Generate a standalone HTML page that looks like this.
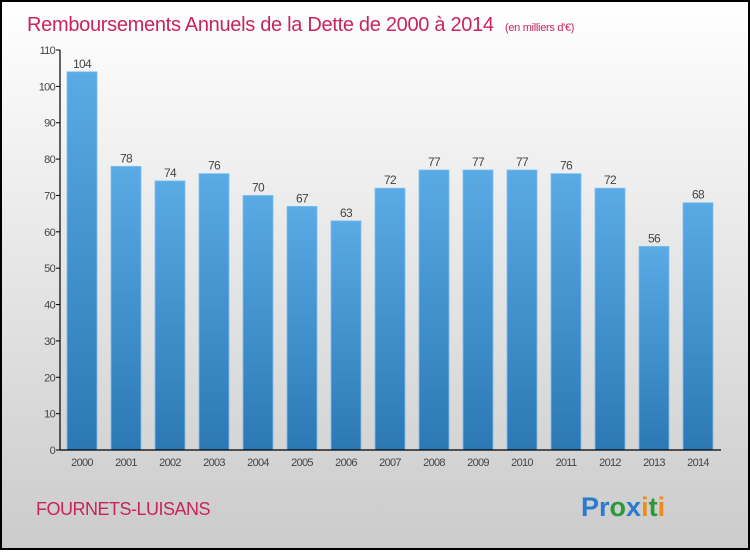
<!DOCTYPE html>
<html><head><meta charset="utf-8"><style>
html,body{margin:0;padding:0;}
body{width:750px;height:550px;overflow:hidden;font-family:"Liberation Sans",sans-serif;}
</style></head><body>
<svg id="chart" width="750" height="550" xmlns="http://www.w3.org/2000/svg">
<defs>
<linearGradient id="bg" x1="0" y1="0" x2="0" y2="1"><stop offset="0" stop-color="#ffffff"/><stop offset="1" stop-color="#cbcbcb"/></linearGradient>
<linearGradient id="bar" x1="0" y1="0" x2="0" y2="1"><stop offset="0" stop-color="#5aaae6"/><stop offset="1" stop-color="#2b78b4"/></linearGradient>
</defs>
<rect x="1" y="1" width="748" height="548" fill="url(#bg)" stroke="#000" stroke-width="2"/>
<text x="27" y="31" font-size="20" fill="#c8245c" letter-spacing="-0.3">Remboursements Annuels de la Dette de 2000 à 2014 <tspan font-size="11" dx="6">(en milliers d'€)</tspan></text>
<g id="plot"></g>
<text x="36" y="515" font-size="18" fill="#c8245c" letter-spacing="-0.5">FOURNETS-LUISANS</text>
<text x="581" y="516" font-size="27" font-weight="bold"><tspan fill="#2a7ad0">P</tspan><tspan fill="#2a7ad0">r</tspan><tspan fill="#2a9a3a">o</tspan><tspan fill="#2a7ad0">x</tspan><tspan fill="#f08a1a">i</tspan><tspan fill="#2a9a3a">t</tspan><tspan fill="#f08a1a">i</tspan></text>
</svg>
<script>
const categories=["2000","2001","2002","2003","2004","2005","2006","2007","2008","2009","2010","2011","2012","2013","2014"];
const values=[104,78,74,76,70,67,63,72,77,77,77,76,72,56,68];
const yTicks=[0,10,20,30,40,50,60,70,80,90,100,110];
const NS="http://www.w3.org/2000/svg";
const g=document.getElementById('plot');
const y0=450,yTop=50,yMax=110;
function y(v){return y0-(v/yMax)*(y0-yTop);}
function xc(i){return 82+44*i;}
function mk(tag,attrs,txt){const e=document.createElementNS(NS,tag);for(const k in attrs)e.setAttribute(k,attrs[k]);if(txt!==undefined)e.textContent=txt;g.appendChild(e);return e;}
yTicks.forEach(t=>{
 const l=mk('line',{x1:56,x2:60,y1:y(t),y2:y(t),stroke:'#000'});
 
 
 const tx=mk('text',{x:55,y:y(t)+4,'font-size':11,'text-anchor':'end',fill:'#444','letter-spacing':'-0.7'},t);
 
 
});
values.forEach((v,i)=>{
 const r=mk('rect',{x:xc(i)-15,y:y(v),width:30,height:y0-y(v),fill:'url(#bar)',stroke:'#7cc0f0','stroke-width':0.8});
 
 
 const vl=mk('text',{x:xc(i),y:y(v)-4,'font-size':12,'text-anchor':'middle',fill:'#444','letter-spacing':'-0.7'},v);
 
 
 const cl=mk('text',{x:xc(i),y:466,'font-size':11,'text-anchor':'middle',fill:'#444','letter-spacing':'-0.7'},categories[i]);
 
 
});
const ya=mk('line',{x1:60,x2:60,y1:yTop,y2:y0,stroke:'#000','stroke-width':1.2});


const xa=mk('line',{x1:60,x2:721,y1:y0,y2:y0,stroke:'#000','stroke-width':1.2});


</script>
</body></html>
